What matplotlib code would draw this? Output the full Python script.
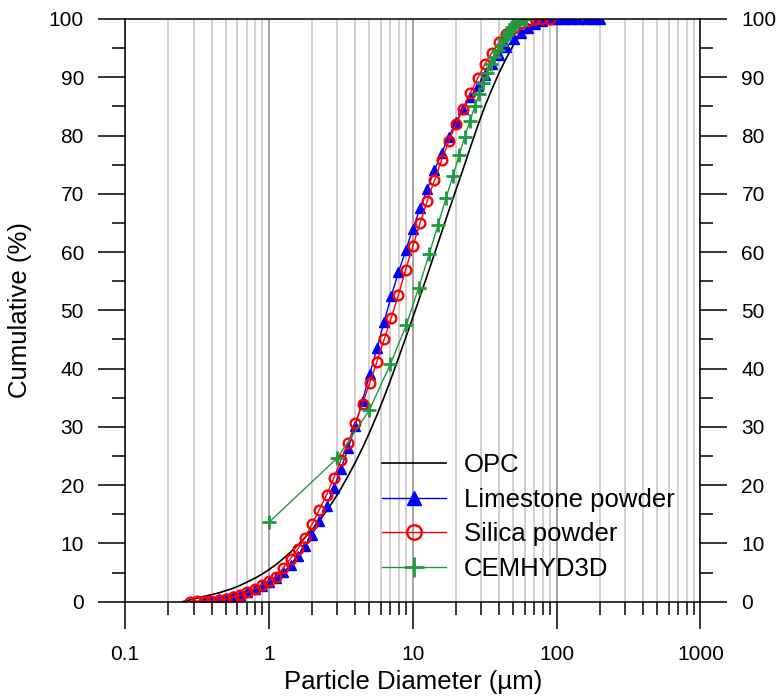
import matplotlib
matplotlib.use('Agg')
import matplotlib.pyplot as plt
from matplotlib.ticker import LogLocator, FixedLocator, MultipleLocator, NullFormatter, FuncFormatter

plt.rcParams['font.family'] = ['Liberation Sans', 'DejaVu Sans']

# size classes (um) of the laser diffraction analyser
sizes = [0.2518, 0.2825, 0.3170, 0.3557, 0.3991, 0.4477, 0.5024, 0.5637, 0.6325, 0.7096,
         0.7962, 0.8934, 1.0024, 1.1247, 1.2619, 1.4159, 1.5887, 1.7825, 2.0000, 2.2440,
         2.5179, 2.8251, 3.1698, 3.5566, 3.9905, 4.4774, 5.0238, 5.6368, 6.3246, 7.0963,
         7.9621, 8.9337, 10.024, 11.247, 12.619, 14.159, 15.887, 17.825, 20.000, 22.440,
         25.179, 28.251, 31.698, 35.566, 39.905, 44.774, 50.238, 56.368, 63.246, 70.963,
         79.621, 89.337, 100.24, 112.47, 126.19, 141.59, 158.87, 178.25, 200.00]

# OPC, from 0.2518 to 100.24
opc = [0.0, 0.3, 0.6, 0.9, 1.2, 1.5, 1.9, 2.3, 2.8, 3.4,
       4.0, 4.7, 5.5, 6.4, 7.4, 8.5, 9.7, 11.0, 12.4, 13.9,
       15.6, 17.4, 19.4, 21.6, 23.9, 26.4, 29.1, 32.0, 35.1, 38.4,
       41.8, 45.3, 48.8, 52.4, 56.0, 59.7, 63.4, 67.1, 70.7, 74.3,
       78.0, 81.6, 85.0, 88.0, 90.8, 93.3, 95.6, 97.4, 98.7, 99.5,
       99.9, 100.0, 100.0]

# limestone powder, from 0.3557 to 200
limestone = [0.0, 0.2, 0.4, 0.6, 0.9, 1.2, 1.6, 2.1, 2.7,
             3.3, 4.1, 5.1, 6.3, 7.8, 9.5, 11.5, 13.8, 16.5, 19.5,
             22.8, 26.3, 30.2, 34.5, 39.0, 43.5, 48.0, 52.5, 56.5, 60.3,
             64.0, 67.5, 70.8, 74.0, 77.0, 79.8, 82.3, 84.6, 86.6, 88.5,
             90.4, 92.2, 93.8, 95.2, 96.5, 97.6, 98.5, 99.2, 99.7, 100.0,
             100.0, 100.0, 100.0, 100.0, 100.0, 100.0, 100.0]

# silica powder, from 0.2825 to 89.337
silica = [0.0, 0.1, 0.1, 0.2, 0.3, 0.5, 0.8, 1.1, 1.6, 2.2,
          2.9, 3.6, 4.3, 5.8, 7.4, 9.0, 11.0, 13.3, 15.8, 18.3,
          21.2, 24.3, 27.3, 30.6, 34.0, 37.5, 41.2, 45.0, 48.7, 52.7,
          57.0, 61.0, 65.0, 68.8, 72.3, 75.8, 79.0, 82.0, 84.6, 87.3,
          89.8, 92.2, 94.2, 96.0, 97.4, 98.5, 99.3, 99.7, 100.0, 100.0,
          100.0]

# CEMHYD3D digitised particle diameters (um)
cem_d = [1, 3, 5, 7, 9, 11, 13, 15, 17, 19, 21, 23, 25, 27, 29, 31, 33, 35, 37, 39,
         41, 43, 45, 47, 49, 51, 53, 55, 57, 59, 61]
cem = [13.6, 24.7, 32.9, 40.8, 47.4, 53.9, 59.6, 64.7, 69.2, 73.0, 76.6, 79.8, 82.5,
       85.0, 87.1, 89.0, 90.7, 92.2, 93.5, 94.6, 95.6, 96.5, 97.3, 98.0, 98.6, 99.1,
       99.5, 99.8, 100.0, 100.0, 100.0]

x_ticks = [0.1, 1, 10, 100, 1000]
y_ticks = [0, 10, 20, 30, 40, 50, 60, 70, 80, 90, 100]

green = '#1f9a3c'

fig = plt.figure(figsize=(7.83, 6.98), dpi=100)
ax = fig.add_axes([0.1596, 0.138, 0.735, 0.8348])

ax.plot(sizes[:len(opc)], opc, color='black', lw=1.2, label='OPC')
ax.plot(sizes[3:3 + len(limestone)], limestone, color='blue', lw=1.0, marker='^',
        ms=7, mfc='blue', mec='blue', label='Limestone powder')
ax.plot(sizes[1:1 + len(silica)], silica, color='red', lw=1.0, marker='o',
        ms=7, mfc='none', mec='red', mew=1.7, label='Silica powder')
ax.plot(cem_d, cem, color=green, lw=1.0, marker='+', ms=10, mew=2.0, label='CEMHYD3D')

ax.set_xscale('log')
ax.set_xlim(0.1, 1000)
ax.set_ylim(0, 100)
ax.xaxis.set_major_locator(FixedLocator(x_ticks))
ax.xaxis.set_major_formatter(FuncFormatter(lambda v, p: f'{v:g}'))
ax.xaxis.set_minor_locator(LogLocator(base=10, subs=[2, 3, 4, 5, 6, 7, 8, 9], numticks=20))
ax.xaxis.set_minor_formatter(NullFormatter())
ax.yaxis.set_major_locator(FixedLocator(y_ticks))
ax.yaxis.set_minor_locator(MultipleLocator(5))

ax.grid(which='minor', axis='x', color='#c4c4c4', lw=1.1)
ax.grid(which='major', axis='x', color='#8a8a8a', lw=1.1)
ax.set_axisbelow(True)

for s in ax.spines.values():
    s.set_linewidth(1.1)

ax.tick_params(axis='x', which='major', direction='out', width=1.1, labelsize=15,
               length=19.5, pad=12, top=False)
ax.tick_params(axis='x', which='minor', direction='out', width=1.1, length=9.5, top=False)
ax.tick_params(axis='y', which='major', direction='out', width=1.1, labelsize=15,
               length=19.5, pad=10, left=True, right=True, labelright=True)
ax.tick_params(axis='y', which='minor', direction='out', width=1.1, length=9.5,
               left=True, right=True)

ax.set_xlabel('Particle Diameter (\u00b5m)', fontsize=18.5, labelpad=4)
ax.set_ylabel('Cumulative (%)', fontsize=18.5, labelpad=12)

ax.legend(loc='center left', bbox_to_anchor=(0.4466, 0.1454), frameon=False,
          fontsize=18.5, borderpad=0, borderaxespad=0, handlelength=2.5,
          handletextpad=0.7, labelspacing=0.42, markerscale=1.5)

fig.savefig('out.png', dpi=100)
